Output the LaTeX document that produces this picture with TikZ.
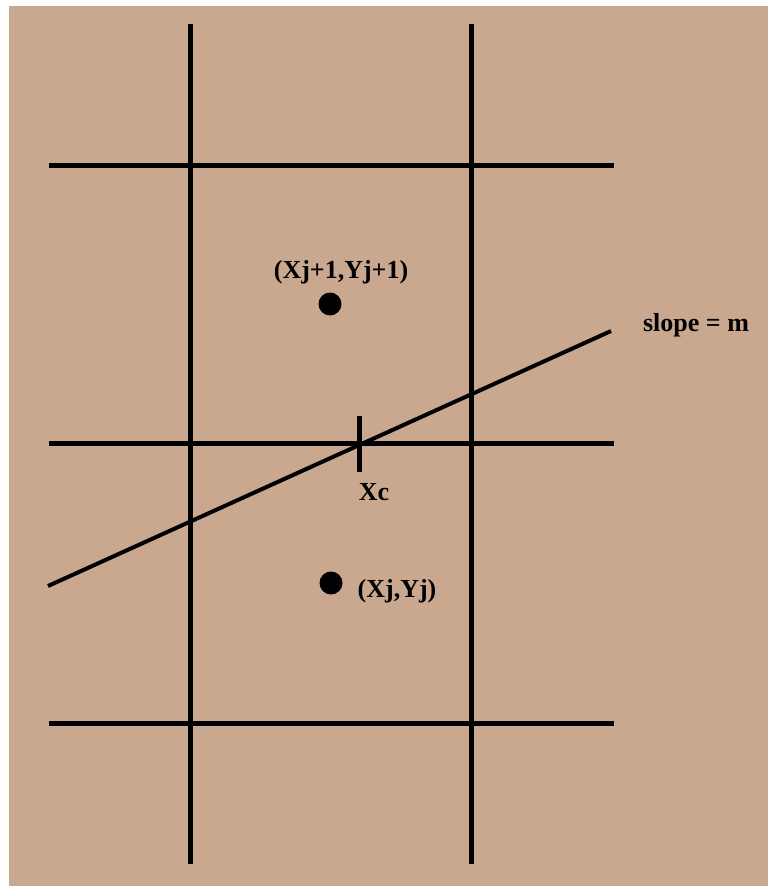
\documentclass[tikz,border=0pt]{standalone}
\usepackage{fontspec}
\setmainfont{Liberation Serif}
\definecolor{tanbg}{RGB}{202,168,144}
\begin{document}
\begin{tikzpicture}[x=1pt,y=-1pt,
  grid/.style={line width=5pt,black},
  slopeline/.style={line width=4pt,black},
  dot/.style={circle,fill=black,inner sep=0pt,minimum size=23pt},
  lbl/.style={font=\fontsize{26}{28}\selectfont\bfseries,inner sep=0pt,text=black}]
\useasboundingbox (0,0) rectangle (768,886);
\fill[white] (0,0) rectangle (768,886);
\fill[tanbg] (9,6) rectangle (768,886);
% grid coordinates
\coordinate (v1t) at (190,24);  \coordinate (v1b) at (190,864);
\coordinate (v2t) at (471,24);  \coordinate (v2b) at (471,864);
\coordinate (h1l) at (49,165);  \coordinate (h1r) at (614,165);
\coordinate (h2l) at (49,443);  \coordinate (h2r) at (614,443);
\coordinate (h3l) at (49,723);  \coordinate (h3r) at (614,723);
\draw[grid] (v1t) -- (v1b);
\draw[grid] (v2t) -- (v2b);
\draw[grid] (h1l) -- (h1r);
\draw[grid] (h2l) -- (h2r);
\draw[grid] (h3l) -- (h3r);
% slope line
\coordinate (sl) at (48,586);
\coordinate (sr) at (611,331);
\draw[slopeline] (sl) -- (sr);
% tick at Xc
\coordinate (tt) at (359,416);
\coordinate (tb) at (359,472);
\draw[line width=5pt] (tt) -- (tb);
% dots
\node[dot] (p1) at (330,304) {};
\node[dot] (p0) at (331,583) {};
% labels
\node[lbl] (l1) at (341,272) {(Xj+1,Yj+1)};
\node[lbl] (l0) at (397,591) {(Xj,Yj)};
\node[lbl] (lc) at (374,492) {Xc};
\node[lbl] (ls) at (696,325) {slope = m};
\end{tikzpicture}
\end{document}
